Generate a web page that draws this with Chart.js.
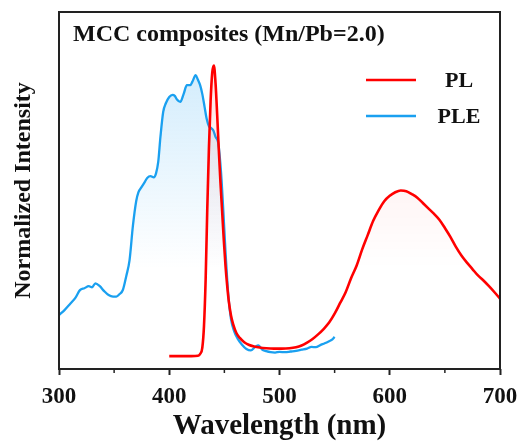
<!DOCTYPE html>
<html>
<head>
<meta charset="utf-8">
<script src="https://cdn.jsdelivr.net/npm/chart.js@4"></script>
<style>
    html, body { margin: 0; padding: 0; background: #fff; }
    #wrap { width: 528px; height: 445px; }
</style>
</head>
<body>
<div id="wrap"><canvas id="chart" width="528" height="445"></canvas></div>
<script>
// Data (normalized intensity, arbitrary 0..1)
const pleWavelength = [300, 305, 310, 315, 319, 323, 327, 330, 333, 337, 341, 345, 349, 352, 355, 358, 361, 364, 367, 370,
    372, 375, 378, 380, 383, 386, 388, 390, 392, 394.5, 397, 400, 403, 405, 407, 410, 413, 416, 419, 421,
    424, 426, 428, 430, 432, 434, 436, 438, 440, 442, 444.5, 447, 449, 451, 453.5, 456, 459, 462, 466, 470,
    474, 478, 481, 484, 488, 492, 496, 500, 505, 510, 515, 520, 525, 529, 533, 537, 541, 545, 548, 550];
const pleIntensity = [0.151, 0.165, 0.182, 0.2, 0.221, 0.226, 0.232, 0.229, 0.24, 0.232, 0.218, 0.207, 0.203, 0.203, 0.21, 0.222, 0.26, 0.305, 0.4, 0.47,
    0.495, 0.51, 0.525, 0.535, 0.54, 0.537, 0.548, 0.58, 0.65, 0.72, 0.745, 0.762, 0.768, 0.765, 0.755, 0.748, 0.77, 0.795, 0.795, 0.805,
    0.823, 0.81, 0.795, 0.77, 0.735, 0.7, 0.68, 0.675, 0.668, 0.65, 0.632, 0.55, 0.445, 0.33, 0.21, 0.14, 0.105, 0.085, 0.068, 0.056,
    0.052, 0.062, 0.066, 0.055, 0.05, 0.047, 0.046, 0.048, 0.047, 0.049, 0.051, 0.054, 0.057, 0.062, 0.061, 0.067, 0.072, 0.078, 0.083, 0.09];

const plWavelength = [400, 410, 420, 426, 428, 430, 431.5, 433, 434.5, 436, 437.5, 439, 440.5, 442, 443.5, 445, 446.5, 448, 449.5, 451,
    452.5, 454, 456, 458, 461, 464, 468, 472, 477, 482, 488, 495, 502, 509, 515, 520, 525, 530, 535, 540,
    545, 550, 555, 560, 565, 570, 575, 580, 585, 590, 595, 600, 605, 610, 615, 620, 625, 630, 635, 640,
    645, 650, 655, 660, 665, 670, 675, 680, 685, 690, 695, 700];
const plIntensity = [0.036, 0.036, 0.036, 0.037, 0.042, 0.06, 0.12, 0.25, 0.45, 0.62, 0.75, 0.83, 0.85, 0.8, 0.71, 0.61, 0.52, 0.44, 0.36, 0.29,
    0.235, 0.19, 0.15, 0.125, 0.1, 0.087, 0.075, 0.068, 0.063, 0.06, 0.058, 0.057, 0.057, 0.058, 0.061, 0.066, 0.074, 0.084, 0.097, 0.112,
    0.13, 0.155, 0.185, 0.215, 0.255, 0.29, 0.335, 0.375, 0.415, 0.445, 0.47, 0.485, 0.495, 0.5, 0.498, 0.49, 0.48, 0.465, 0.45, 0.435,
    0.418, 0.395, 0.37, 0.342, 0.318, 0.298, 0.28, 0.262, 0.248, 0.232, 0.215, 0.197];

const xTicks = [300, 400, 500, 600, 700];
const xMinorTicks = [350, 450, 550, 650];

const chartTitle = 'MCC composites (Mn/Pb=2.0)';
const seriesNames = ['PL', 'PLE'];
const seriesColors = ['#ff0000', '#1aa0f0'];

const SERIF = '"Liberation Serif", "Times New Roman", serif';

function toPoints(xs, ys) {
    return xs.map((x, i) => ({ x: x, y: ys[i] }));
}

// vertical gradient fill under a curve
function gradientFill(r, g, b, alpha) {
    return function (context) {
        const area = context.chart.chartArea;
        if (!area) return 'rgba(0,0,0,0)';
        const h = area.bottom - area.top;
        const grad = context.chart.ctx.createLinearGradient(0, area.top + 0.15 * h, 0, area.top + 0.72 * h);
        grad.addColorStop(0, `rgba(${r},${g},${b},${alpha})`);
        grad.addColorStop(1, `rgba(${r},${g},${b},0)`);
        return grad;
    };
}

// frame, minor ticks, title and legend
const decorPlugin = {
    id: 'decor',
    afterDraw(chart) {
        const ctx = chart.ctx;
        const a = chart.chartArea;
        const xs = chart.scales.x;
        ctx.save();
        ctx.strokeStyle = '#222';
        ctx.lineWidth = 2;
        ctx.strokeRect(a.left, a.top, a.right - a.left, a.bottom - a.top);

        ctx.lineWidth = 1.5;
        xMinorTicks.forEach(v => {
            const px = xs.getPixelForValue(v);
            ctx.beginPath();
            ctx.moveTo(px, a.bottom);
            ctx.lineTo(px, a.bottom + 4);
            ctx.stroke();
        });

        ctx.fillStyle = '#111';
        ctx.textBaseline = 'middle';
        ctx.font = 'bold 24px ' + SERIF;
        ctx.textAlign = 'left';
        ctx.fillText(chartTitle, a.left + 14, 35);

        const legendY = [80, 116];
        seriesNames.forEach((name, i) => {
            ctx.strokeStyle = seriesColors[i];
            ctx.lineWidth = 2.5;
            ctx.beginPath();
            ctx.moveTo(366, legendY[i]);
            ctx.lineTo(416, legendY[i]);
            ctx.stroke();
            ctx.fillStyle = '#111';
            ctx.textAlign = 'center';
            ctx.font = 'bold 22px ' + SERIF;
            ctx.fillText(name, 459, legendY[i] + 1);
        });
        ctx.restore();
    }
};

new Chart(document.getElementById('chart'), {
    type: 'line',
    data: {
        datasets: [
            {
                label: seriesNames[0],
                data: toPoints(plWavelength, plIntensity),
                borderColor: seriesColors[0],
                borderWidth: 2.6,
                backgroundColor: gradientFill(255, 0, 0, 0.1),
                fill: 'origin',
                pointRadius: 0,
                cubicInterpolationMode: 'monotone'
            },
            {
                label: seriesNames[1],
                data: toPoints(pleWavelength, pleIntensity),
                borderColor: seriesColors[1],
                borderWidth: 2.3,
                backgroundColor: gradientFill(30, 160, 240, 0.2),
                fill: 'origin',
                pointRadius: 0,
                cubicInterpolationMode: 'monotone'
            }
        ]
    },
    options: {
        responsive: false,
        animation: false,
        layout: { padding: { top: 12, right: 28, left: 0, bottom: 0 } },
        plugins: {
            legend: { display: false },
            tooltip: { enabled: false }
        },
        scales: {
            x: {
                type: 'linear',
                min: 300,
                max: 700,
                afterFit: s => { s.height = 76; },
                afterBuildTicks: s => { s.ticks = xTicks.map(v => ({ value: v })); },
                ticks: {
                    color: '#111',
                    padding: 8,
                    maxRotation: 0,
                    font: { family: SERIF, size: 23, weight: 'bold' }
                },
                grid: {
                    drawOnChartArea: false,
                    drawTicks: true,
                    tickLength: 6,
                    tickWidth: 2,
                    tickColor: '#222'
                },
                border: { display: false },
                title: {
                    display: true,
                    text: 'Wavelength (nm)',
                    color: '#111',
                    padding: { top: 0, bottom: 1 },
                    font: { family: SERIF, size: 29, weight: 'bold' }
                }
            },
            y: {
                type: 'linear',
                min: 0,
                max: 1,
                afterFit: s => { s.width = 59; },
                ticks: { display: false },
                grid: { display: false },
                border: { display: false },
                title: {
                    display: true,
                    text: 'Normalized Intensity',
                    color: '#111',
                    padding: { top: 9, bottom: 0 },
                    font: { family: SERIF, size: 24, weight: 'bold' }
                }
            }
        }
    },
    plugins: [decorPlugin]
});
</script>
</body>
</html>
